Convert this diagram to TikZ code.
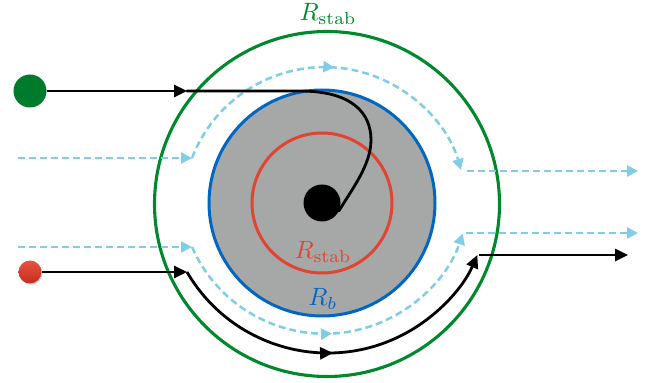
\documentclass[tikz,border=0pt]{standalone}
\usetikzlibrary{arrows.meta,decorations.markings,shadows}
\definecolor{cgreen}{RGB}{0,137,44}
\definecolor{cdot}{RGB}{0,122,43}
\definecolor{cblue}{RGB}{0,102,196}
\definecolor{cred}{RGB}{226,68,50}
\definecolor{cgray}{RGB}{165,168,166}
\definecolor{ccyan}{RGB}{127,205,230}
\definecolor{cballtop}{RGB}{230,84,66}
\definecolor{cballbot}{RGB}{198,44,28}
\begin{document}
\begin{tikzpicture}[x=1pt,y=1pt,
  blk/.style={line width=2.8pt,draw=black},
  cyn/.style={line width=2.5pt,draw=ccyan,dash pattern=on 7pt off 4pt},
  btip/.style={-{Triangle[length=13pt,width=12pt]}},
  ctip/.style={-{Triangle[length=11pt,width=11pt]}},
  midb/.style={postaction={decorate},decoration={markings,mark=at position #1 with {\arrow{Triangle[length=13pt,width=12pt]}}}},
  midc/.style={postaction={decorate},decoration={markings,mark=at position #1 with {\arrow{Triangle[length=11pt,width=11pt]}}}},
  lbl/.style={scale=2.5,transform shape,anchor=base,inner sep=0pt}]
\useasboundingbox (0,0) rectangle (654,383);
\coordinate (C) at (322,180);
\coordinate (G) at (327,179);
% disks and circles
\fill[cgray] (C) circle[radius=113];
\draw[cblue,line width=3pt] (C) circle[radius=113];
\draw[cred,line width=3pt] (C) circle[radius=70];
\draw[cgreen,line width=3.1pt] (G) circle[radius=172.5];
\node[circle,fill=black,minimum size=37pt,inner sep=0pt] (core) at (C) {};
% particles
\node[circle,fill=cdot,minimum size=33pt,inner sep=0pt] (gdot) at (30,292) {};
\node[circle,minimum size=23pt,inner sep=0pt,top color=cballtop,bottom color=cballbot,
      drop shadow={shadow xshift=1pt,shadow yshift=-1.2pt,opacity=0.35}] (rdot) at (30,111) {};
% labels
\node[lbl,text=cgreen] (lg) at (328,362.5) {$R_{\mathrm{stab}}$};
\node[lbl,text=cred] (lr) at (323,124) {$R_{\mathrm{stab}}$};
\node[lbl,text=cblue] (lb) at (323,77) {$R_b$};
% upper cyan flow
\coordinate (ci1) at (18,225);
\coordinate (ct1) at (192,225);
\coordinate (co1s) at (467,212);
\coordinate (co1e) at (638,212);
\draw[cyn,ctip] (ci1) -- (ct1);
\draw[cyn,ctip,midc=0.51] (ct1) arc[start angle=158.9,end angle=16,radius=142];
\draw[cyn,ctip] (co1s) -- (co1e);
% lower cyan flow
\coordinate (ci2) at (18,136);
\coordinate (ct2) at (192,136);
\coordinate (co2s) at (466,150);
\coordinate (co2e) at (638,150);
\draw[cyn,ctip] (ci2) -- (ct2);
\draw[cyn,ctip,midc=0.5] (ct2) arc[start angle=203.7,end angle=342,radius=145];
\draw[cyn,ctip] (co2s) -- (co2e);
% upper black trajectory (captured)
\coordinate (a1) at (187,292);
\coordinate (a2) at (300,292);
\coordinate (a3) at (371,243);
\draw[blk,btip] (gdot.east) -- (a1);
\draw[blk,line cap=round] (a1) -- (a2) .. controls (352,292) and (371,270) .. (a3)
      .. controls (371,218) and (352,194) .. (core.-25);
% lower black trajectory (deflected)
\coordinate (b1) at (187,111);
\coordinate (b2) at (479,128);
\coordinate (b3) at (628,128);
\draw[blk,btip] (rdot.east) -- (b1);
\draw[blk,btip,midb=0.488] (b1) arc[start angle=210.2,end angle=336.5,radius=163];
\draw[blk,btip] (b2) -- (b3);
\end{tikzpicture}
\end{document}
